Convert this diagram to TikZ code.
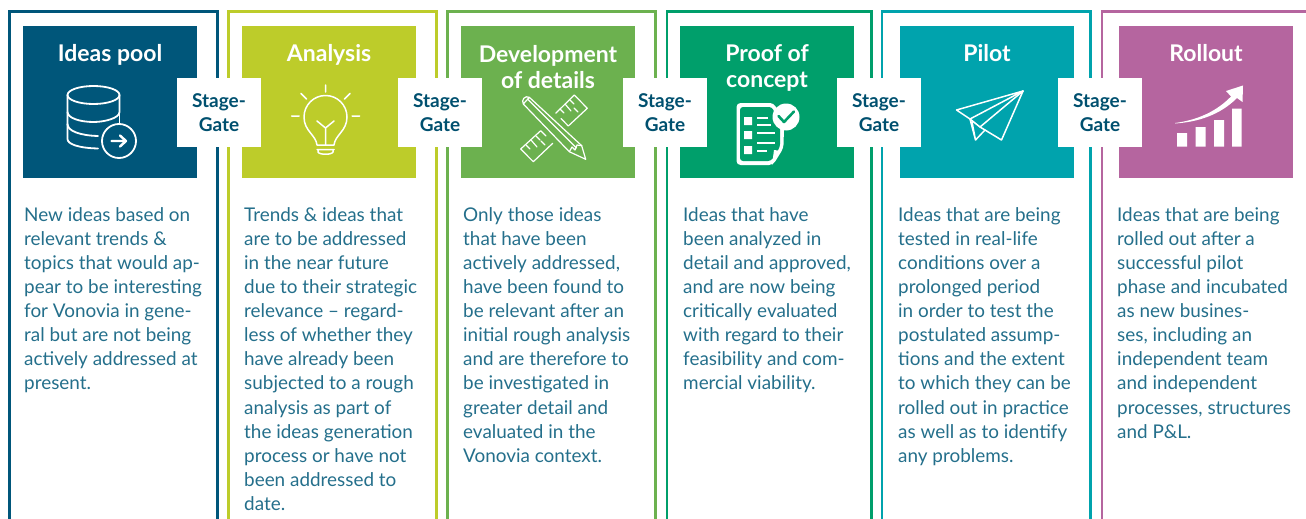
\documentclass[tikz,border=0pt]{standalone}
\usepackage{fontspec}
\setmainfont{Lato}
\usetikzlibrary{positioning}

\definecolor{cpool}{HTML}{00567A}
\definecolor{canalysis}{HTML}{BDCC2A}
\definecolor{cdetails}{HTML}{6CB14F}
\definecolor{cproof}{HTML}{009F6B}
\definecolor{cpilot}{HTML}{00A3AD}
\definecolor{crollout}{HTML}{B5659F}
\definecolor{cgate}{HTML}{00506F}
\definecolor{cbody}{HTML}{246F8B}

\tikzset{
	frame/.style={line width=2.6pt},
	head/.style={minimum width=174pt, minimum height=152pt, inner sep=0pt, anchor=north west},
	title/.style={text=white, font=\fontsize{23}{26.5}\selectfont\bfseries, align=center, inner sep=0pt},
	gate/.style={fill=white, text=cgate, minimum width=84pt, minimum height=69pt, inner sep=0pt,
		align=center, font=\fontsize{19}{24}\selectfont\bfseries, execute at begin node=\rule{0pt}{20pt}},
	body/.style={text=cbody, anchor=north west, inner sep=0pt, align=left, font=\fontsize{18.9}{24.05}\selectfont},
	icon/.style={draw=white, line width=1.5pt, line cap=round, line join=round},
	thick icon/.style={icon, line width=1.8pt},
	thin icon/.style={icon, line width=1.2pt},
}

\begin{document}
\begin{tikzpicture}[x=1pt, y=-1pt]
	\useasboundingbox (0,0) rectangle (1306,519);

	\draw [frame, cpool] (9.5,519) |- (217.5,11.5) -- (217.5,519);
	\draw [frame, canalysis] (228.5,519) |- (436.5,11.5) -- (436.5,519);
	\draw [frame, cdetails] (447.5,519) |- (655.5,11.5) -- (655.5,519);
	\draw [frame, cproof] (667,519) |- (871.5,11.5) -- (871.5,519);
	\draw [frame, cpilot] (882,519) |- (1090.5,11.5) -- (1090.5,519);
	\draw [frame, crollout] (1102,519) |- (1306,11.5);

	\node [head, fill=cpool] (pool) at (23,26) {};
	\node [head, fill=canalysis] (analysis) at (242,26) {};
	\node [head, fill=cdetails] (details) at (461,26) {};
	\node [head, fill=cproof] (proof) at (680,26) {};
	\node [head, fill=cpilot] (pilot) at (900,26) {};
	\node [head, fill=crollout] (rollout) at (1119,26) {};

	\node [title, anchor=base] (poolT) at (110,62) {Ideas pool};
	\node [title, anchor=base] (analysisT) at (329,62) {Analysis};
	\node [title] (detailsT) at (548,67) {Development\\of details};
	\node [title] (proofT) at (767,68) {Proof of\\concept};
	\node [title, anchor=base] (pilotT) at (987,62) {Pilot};
	\node [title, anchor=base] (rolloutT) at (1206,62) {Rollout};

	\node [gate] (gateA) at (219,112.5) {Stage-\\Gate};
	\node [gate] (gateB) at (440,112.5) {Stage-\\Gate};
	\node [gate] (gateC) at (665,112.5) {Stage-\\Gate};
	\node [gate] (gateD) at (879,112.5) {Stage-\\Gate};
	\node [gate] (gateE) at (1100,112.5) {Stage-\\Gate};

	% database
	\draw [thick icon] (93.5,95) ellipse [x radius=26, y radius=9];
	\draw [thick icon] (67.5,95) -- (67.5,139) .. controls (67.5,144) and (78,148) .. (98,148.5);
	\draw [thick icon] (119.5,95) -- (119.5,112) .. controls (119.5,118) and (105,122) .. (93.5,122)
		.. controls (80,122) and (67.5,118) .. (67.5,112);
	\draw [thick icon] (67.5,124) .. controls (67.5,131) and (80,135.5) .. (98,136);
	\draw [thick icon] (119.5,112) -- (119.5,123);
	\draw [thick icon] (119,141) circle [radius=17];
	\draw [icon, line width=2.4pt] (111.5,141) -- (126,141) (120,135.5) -- (126,141) -- (120,146.5);

	% bulb
	\draw [icon] (317,145) .. controls (316,135) and (304,131) .. (304,117)
		arc [start angle=180, end angle=360, radius=21.5]
		.. controls (347,131) and (335,135) .. (334,145) -- cycle;
	\draw [icon] (317,149.5) -- (334,149.5) (318,149.5) -- (318,152) .. controls (319,155) and (332,155) .. (333,152) -- (333,149.5);
	\draw [icon] (325.5,145) -- (325.5,128) (317,121) -- (325.5,128) -- (334,121);
	\draw [icon] (325.5,85) -- (325.5,92) (301,93.5) -- (306.5,99) (350,93.5) -- (344.5,99)
		(291.5,116) -- (299,116) (352,116) -- (359.5,116);

	% ruler and pencil
	\draw [thin icon] (574.3,95) -- (587.3,108.3) -- (568.3,126) (555.7,113.3) -- (574.3,95)
		(568.3,126) -- (561,118.5) (540.7,130.7) -- (520.7,149) -- (533.3,161.7) -- (552.7,143.3)
		(540.7,130.7) -- (546,136);
	\draw [thin icon] (570,100) -- (574,104) (565,104) -- (571,111) (560,109) -- (564,113)
		(574,108) -- (578,112) (536,136) -- (540,140) (531,140) -- (537,147) (526,145) -- (530,149) (541,141) -- (545,145);
	\draw [thin icon] (529.3,97.3) -- (581.7,145.7) -- (585.7,159.3) -- (569.3,151.7) -- (523.3,104)
		.. controls (521,100) and (525,95) .. (529.3,97.3) (523.3,104) -- (529.3,97.3)
		(527.5,99) -- (576.5,148);
	\draw [thin icon] (569.3,151.7) -- (572,147) -- (575,150) -- (577,145) -- (581.7,145.7);

	% checklist
	\fill [white, rounded corners=4pt] (736.5,103) -- (774,103) -- (784,125) -- (783.5,148) -- (773,165) -- (736.5,165) -- cycle;
	\fill [cproof, rounded corners=3pt] (740,107) -- (772,107) -- (780,125) -- (780,147) -- (771,161) -- (740,161) -- cycle;
	\fill [white] (744,117) rectangle (752,125) (744,131) rectangle (752,139) (744,146) rectangle (752,154);
	\draw [white, line width=2pt] (757,118) -- (768,118) (757,125) -- (771,125) (757,133) -- (775,133)
		(757,143) -- (775,143) (757,151) -- (767,151);
	\fill [white] (786,117) circle [radius=13.5];
	\draw [cproof, line width=2.6pt, line cap=round, line join=round] (778.5,116) -- (784,122) -- (794,111.5);
	\fill [white] (772,165) -- (774,150) -- (781,151) -- cycle;

	% paper plane
	\draw [icon] (1023,91) -- (956.5,110) -- (970,119) -- cycle;
	\draw [icon] (1023,91) -- (1001.5,140) -- (980,127) -- (970,119);
	\draw [icon] (970,119) -- (975.5,140) -- (985,130) (975.5,140) -- (972,122);
	\draw [icon] (1023,91) -- (980,127);

	% growth chart
	\fill [white] (1177,133) rectangle (1187,146.5) (1195.5,127) rectangle (1205.5,146.5)
		(1214,120) rectangle (1224,146.5) (1232,108.5) rectangle (1241.5,146.5);
	\fill [white] (1175,123) .. controls (1198,120) and (1217,111) .. (1231,96.5) -- (1226,91)
		-- (1243,85.5) -- (1242.5,102) -- (1237,98) .. controls (1220,115) and (1198,122) .. (1175,123.5) -- cycle;

	\node [body] (poolB) at (24,207.5) {New ideas based on\\relevant trends \&\\topics that would ap-\\pear to be interesting\\for Vonovia in gene-\\ral but are not being\\actively addressed at\\present.};
	\node [body] (analysisB) at (244,207.5) {Trends \& ideas that\\are to be addressed\\in the near future\\due to their strategic\\relevance – regard-\\less of whether they\\have already been\\subjected to a rough\\analysis as part of\\the ideas generation\\process or have not\\been addressed to\\date.};
	\node [body] (detailsB) at (463,207.5) {Only those ideas\\that have been\\actively addressed,\\have been found to\\be relevant after an\\initial rough analysis\\and are therefore to\\be investigated in\\greater detail and\\evaluated in the\\Vonovia context.};
	\node [body] (proofB) at (683,207.5) {Ideas that have\\been analyzed in\\detail and approved,\\and are now being\\critically evaluated\\with regard to their\\feasibility and com-\\mercial viability.};
	\node [body] (pilotB) at (898,207.5) {Ideas that are being\\tested in real-life\\conditions over a\\prolonged period\\in order to test the\\postulated assump-\\tions and the extent\\to which they can be\\rolled out in practice\\as well as to identify\\any problems.};
	\node [body] (rolloutB) at (1117,207.5) {Ideas that are being\\rolled out after a\\successful pilot\\phase and incubated\\as new busines-\\ses, including an\\independent team\\and independent\\processes, structures\\and P\&L.};
\end{tikzpicture}
\end{document}
